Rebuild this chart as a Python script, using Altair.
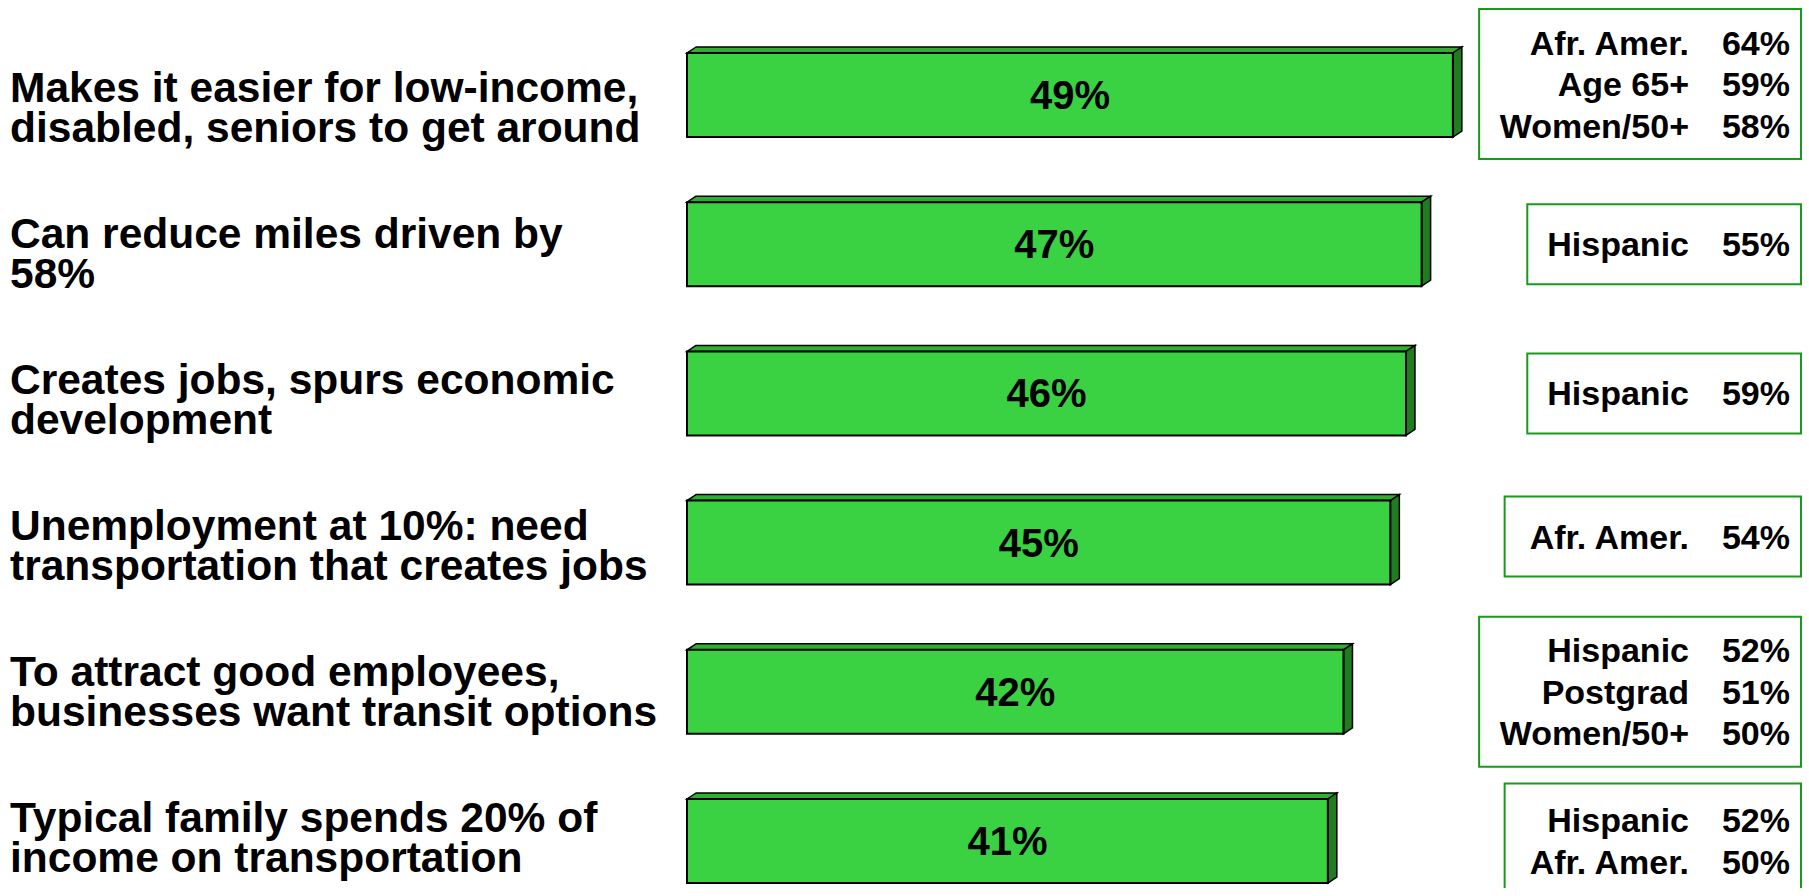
import altair as alt
import pandas as pd

# ---------------- data ----------------
categories = [
    "Makes it easier for low-income,\ndisabled, seniors to get around",
    "Can reduce miles driven by\n58%",
    "Creates jobs, spurs economic\ndevelopment",
    "Unemployment at 10%: need\ntransportation that creates jobs",
    "To attract good employees,\nbusinesses want transit options",
    "Typical family spends 20% of\nincome on transportation",
]
values = [49, 47, 46, 45, 42, 41]
group_names = [
    ["Afr. Amer.", "Age 65+", "Women/50+"],
    ["Hispanic"],
    ["Hispanic"],
    ["Afr. Amer."],
    ["Hispanic", "Postgrad", "Women/50+"],
    ["Hispanic", "Afr. Amer."],
]
group_values = [[64, 59, 58], [55], [59], [54], [52, 51, 50], [52, 50]]

# ---------------- layout / style ----------------
W, H = 1809, 888
ZERO_PX = 687.0          # pixel where 0% sits
PX_PER_PCT = 15.63       # pixels per percentage point
ROW0_PX = 95.0           # centre of first bar
ROW_PX = 149.2           # row pitch
BAR_H_PX = 84.0
DEPTH_X_PX, DEPTH_Y_PX = 9.0, 6.0
LABEL_X_PX = 10
LABEL0_BASE_PX = 102.0
LABEL_PITCH_PX = 146.0
LABEL_LINE_PX = 40.0
LABEL_FONT = 42.5
BAR_FONT = 40
BOX_FONT = 34
BOX_LINE_PX = 41.5
BOX_SHIFT_PX = [-11, 0, 0, -6, 0, 0]   # vertical nudge of each callout box
NAME_RIGHT_PX = 1689
PCT_RIGHT_PX = 1790
BOX_RIGHT_PX = 1801
BOX_PAD_PX = 20
FONT = "Liberation Sans"
GREEN = "#3AD143"
GREEN_TOP = "#2FAE2F"
GREEN_SIDE = "#1F7D1F"
BOX_GREEN = "#1A9A1A"

ARIAL_BOLD = {
    "A": 722, "f": 333, "r": 389, ".": 278, " ": 278, "m": 889, "e": 556,
    "g": 611, "6": 556, "5": 556, "+": 584, "W": 944, "o": 611, "n": 611,
    "/": 278, "0": 556, "H": 722, "i": 278, "s": 556, "p": 611, "a": 556,
    "c": 556, "P": 667, "t": 333, "d": 611,
}


def text_width(s, size):
    return sum(ARIAL_BOLD.get(ch, 600) for ch in s) * size / 1000.0


def px_to_x(px):
    return (px - ZERO_PX) / PX_PER_PCT


xs = alt.Scale(domain=[px_to_x(0), px_to_x(W)], nice=False, zero=False)
ys = alt.Scale(domain=[-ROW0_PX / ROW_PX, (H - ROW0_PX) / ROW_PX],
               nice=False, zero=False, reverse=True)

half = BAR_H_PX / 2 / ROW_PX
dxu = DEPTH_X_PX / PX_PER_PCT
dyu = DEPTH_Y_PX / ROW_PX

# ---------------- tables ----------------
bars = pd.DataFrame({"idx": list(range(len(values))), "value": values,
                     "label": [f"{v}%" for v in values]})
bars["top"] = bars["idx"] - half
bars["bot"] = bars["idx"] + half
bars["zero"] = 0.0
bars["mid"] = bars["value"] / 2

top_rows, side_rows = [], []
for i, v in enumerate(values):
    t, b = i - half, i + half
    top_rows.append({"idx": i, "y": t, "x": 0.0, "x2": v})
    top_rows.append({"idx": i, "y": t - dyu, "x": dxu, "x2": v + dxu})
    side_rows.append({"idx": i, "x": v, "y": t, "y2": b})
    side_rows.append({"idx": i, "x": v + dxu, "y": t - dyu, "y2": b - dyu})
top_df = pd.DataFrame(top_rows)
side_df = pd.DataFrame(side_rows)

label_rows = []
for i, cat in enumerate(categories):
    for k, line in enumerate(cat.split("\n")):
        base_px = LABEL0_BASE_PX + i * LABEL_PITCH_PX + k * LABEL_LINE_PX
        label_rows.append({"idx": i, "line": line,
                           "y": (base_px - ROW0_PX) / ROW_PX})
label_df = pd.DataFrame(label_rows)

box_rows, box_text_rows = [], []
for i, (names, vals) in enumerate(zip(group_names, group_values)):
    n = len(names)
    widest = max(text_width(s, BOX_FONT) for s in names)
    left_px = NAME_RIGHT_PX - widest - BOX_PAD_PX
    hh = (35 * n + 45) / 2 / ROW_PX
    c = i + BOX_SHIFT_PX[i] / ROW_PX
    box_rows.append({"idx": i, "x": px_to_x(left_px), "x2": px_to_x(BOX_RIGHT_PX),
                     "y": c - hh, "y2": c + hh})
    for k, (nm, vv) in enumerate(zip(names, vals)):
        off_px = 12 + (k - (n - 1) / 2) * BOX_LINE_PX
        box_text_rows.append({"idx": i, "name": nm, "pct": f"{vv}%",
                              "y": c + off_px / ROW_PX})
box_df = pd.DataFrame(box_rows)
box_text_df = pd.DataFrame(box_text_rows)

# ---------------- layers ----------------
top_face = alt.Chart(top_df).mark_area(
    orient="horizontal", fill=GREEN_TOP, stroke="black", strokeWidth=1.5
).encode(
    y=alt.Y("y:Q", scale=ys, axis=None),
    x=alt.X("x:Q", scale=xs, axis=None),
    x2="x2:Q",
    detail="idx:N",
)

side_face = alt.Chart(side_df).mark_area(
    orient="vertical", fill=GREEN_SIDE, stroke="black", strokeWidth=1.5
).encode(
    x=alt.X("x:Q", scale=xs, axis=None),
    y=alt.Y("y:Q", scale=ys, axis=None),
    y2="y2:Q",
    detail="idx:N",
)

front = alt.Chart(bars).mark_rect(
    fill=GREEN, stroke="black", strokeWidth=2
).encode(
    x=alt.X("zero:Q", scale=xs, axis=None),
    x2="value:Q",
    y=alt.Y("top:Q", scale=ys, axis=None),
    y2="bot:Q",
)

bar_text = alt.Chart(bars).mark_text(
    font=FONT, fontSize=BAR_FONT, fontWeight="bold", color="black",
    align="center", baseline="alphabetic", dy=14
).encode(
    x=alt.X("mid:Q", scale=xs, axis=None),
    y=alt.Y("idx:Q", scale=ys, axis=None),
    text="label:N",
)

labels = alt.Chart(label_df).mark_text(
    font=FONT, fontSize=LABEL_FONT, fontWeight="bold", color="black",
    align="left", baseline="alphabetic"
).encode(
    x=alt.value(LABEL_X_PX),
    y=alt.Y("y:Q", scale=ys, axis=None),
    text="line:N",
)

boxes = alt.Chart(box_df).mark_rect(
    fill="white", stroke=BOX_GREEN, strokeWidth=2
).encode(
    x=alt.X("x:Q", scale=xs, axis=None),
    x2="x2:Q",
    y=alt.Y("y:Q", scale=ys, axis=None),
    y2="y2:Q",
)

box_names = alt.Chart(box_text_df).mark_text(
    font=FONT, fontSize=BOX_FONT, fontWeight="bold", color="black",
    align="right", baseline="alphabetic"
).encode(
    x=alt.value(NAME_RIGHT_PX),
    y=alt.Y("y:Q", scale=ys, axis=None),
    text="name:N",
)

box_pcts = alt.Chart(box_text_df).mark_text(
    font=FONT, fontSize=BOX_FONT, fontWeight="bold", color="black",
    align="right", baseline="alphabetic"
).encode(
    x=alt.value(PCT_RIGHT_PX),
    y=alt.Y("y:Q", scale=ys, axis=None),
    text="pct:N",
)

chart = alt.layer(
    top_face, side_face, front, bar_text, labels, boxes, box_names, box_pcts
).properties(
    width=W, height=H, padding=0,
    autosize=alt.AutoSizeParams(type="none"),
    background="white",
).configure_view(strokeWidth=0)

chart.save("out.html", embed_options={"renderer": "svg", "actions": False})
